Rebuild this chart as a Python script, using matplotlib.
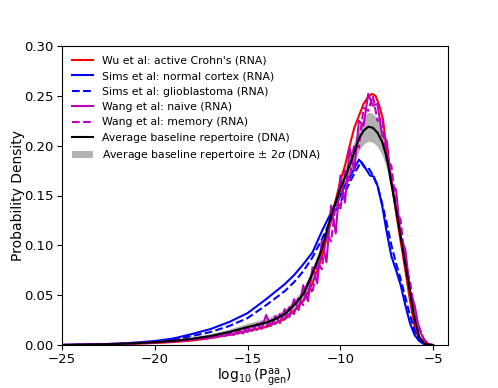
import numpy as np
import matplotlib
matplotlib.use("Agg")
import matplotlib.pyplot as plt

# ---- data ----
x_black = [-25, -24, -23, -22, -21, -20, -19, -18, -17, -16, -15, -14, -13.5, -13, -12.5, -12,
           -11.5, -11, -10.5, -10, -9.5, -9, -8.75, -8.5, -8.25, -8, -7.75, -7.5, -7, -6.5, -6,
           -5.75, -5.5, -5.25, -5]
y_black = [0.0, 0.0003, 0.0006, 0.0011, 0.0018, 0.0028, 0.0042, 0.0062, 0.0090, 0.0130, 0.0180,
           0.0225, 0.0260, 0.0310, 0.0400, 0.0510, 0.0720, 0.0960, 0.1300, 0.1570, 0.1800, 0.2070,
           0.2150, 0.2190, 0.2180, 0.2130, 0.2040, 0.1880, 0.1360, 0.0810, 0.0260, 0.0080, 0.0020,
           0.0003, 0.0]
sigma2 = [0.0, 0.0002, 0.0003, 0.0005, 0.0008, 0.0012, 0.0016, 0.0020, 0.0025, 0.0030, 0.0038,
          0.0042, 0.0045, 0.0048, 0.0050, 0.0055, 0.0060, 0.0065, 0.0070, 0.0080, 0.0100, 0.0120,
          0.0135, 0.0145, 0.0145, 0.0140, 0.0130, 0.0110, 0.0080, 0.0060, 0.0040, 0.0020, 0.0008,
          0.0002, 0.0]

x_red = [-25, -24, -23, -22, -21, -20, -19, -18, -17, -16, -15, -14, -13, -12.5, -12, -11.5,
         -11, -10.5, -10, -9.75, -9.5, -9.25, -9, -8.75, -8.5, -8.3, -8.1, -7.9, -7.7, -7.5,
         -7.25, -7, -6.5, -6.25, -6, -5.75, -5.5, -5.25]
y_red = [0.0, 0.0002, 0.0004, 0.0008, 0.0013, 0.0020, 0.0030, 0.0045, 0.0070, 0.0100, 0.0140,
         0.0180, 0.0260, 0.0340, 0.0440, 0.0620, 0.0880, 0.1250, 0.1650, 0.1800, 0.2000, 0.2180,
         0.2300, 0.2420, 0.2490, 0.2520, 0.2500, 0.2400, 0.2260, 0.1950, 0.1650, 0.1330, 0.0750,
         0.0450, 0.0180, 0.0050, 0.0010, 0.0]

x_blue = [-25, -24, -23, -22, -21, -20, -19, -18, -17, -16, -15, -14, -13, -12.5, -12, -11.5,
          -11, -10.5, -10, -9.75, -9.5, -9.25, -9.0, -8.8, -8.6, -8.4, -8.2, -8.0, -7.75, -7.5,
          -7.25, -7, -6.75, -6.5, -6.25, -6, -5.75, -5.5, -5.25]
y_blue = [0.0, 0.0004, 0.0008, 0.0014, 0.0025, 0.0040, 0.0065, 0.0110, 0.0160, 0.0230, 0.0320,
          0.0460, 0.0610, 0.0700, 0.0810, 0.0930, 0.1140, 0.1330, 0.1500, 0.1600, 0.1680, 0.1770,
          0.1860, 0.1820, 0.1760, 0.1700, 0.1690, 0.1600, 0.1400, 0.1130, 0.0890, 0.0750, 0.0600,
          0.0400, 0.0220, 0.0100, 0.0040, 0.0010, 0.0]

x_bluedash = [-25, -24, -23, -22, -21, -20, -19, -18, -17, -16, -15, -14, -13, -12.5, -12, -11.5,
              -11, -10.5, -10, -9.5, -9.25, -9, -8.9, -8.7, -8.5, -8.3, -8.0, -7.75, -7.5,
              -7.25, -7, -6.75, -6.5, -6.25, -6, -5.75, -5.5, -5.25]
y_bluedash = [0.0, 0.0003, 0.0006, 0.0011, 0.0020, 0.0032, 0.0055, 0.0090, 0.0130, 0.0190, 0.0270,
              0.0400, 0.0540, 0.0630, 0.0740, 0.0880, 0.1060, 0.1260, 0.1430, 0.1630, 0.1720,
              0.1800, 0.1840, 0.1780, 0.1780, 0.1720, 0.1600, 0.1420, 0.1220, 0.1000, 0.0820,
              0.0660, 0.0480, 0.0300, 0.0140, 0.0050, 0.0010, 0.0]

x_mag = [-25.00, -24.75, -24.50, -24.25, -24.00, -23.75, -23.50, -23.25, -23.00, -22.75, -22.50,
         -22.25, -22.00, -21.75, -21.50, -21.25, -21.00, -20.75, -20.50, -20.25, -20.00, -19.75,
         -19.50, -19.25, -19.00, -18.75, -18.50, -18.25, -18.00, -17.75, -17.50, -17.25, -17.00,
         -16.75, -16.50, -16.25, -16.00, -15.75, -15.50, -15.25, -15.00, -14.75, -14.50, -14.25,
         -14.00, -13.75, -13.50, -13.25, -13.00, -12.75, -12.50, -12.25, -12.00, -11.75, -11.50,
         -11.25, -11.00, -10.75, -10.50, -10.25, -10.00, -9.75, -9.50, -9.25, -9.00, -8.75, -8.50,
         -8.25, -8.00, -7.75, -7.50, -7.25, -7.00, -6.75, -6.50, -6.25, -6.00, -5.75, -5.50,
         -5.25, -5.00]
y_mag_naive = [0.0000, 0.0001, 0.0002, 0.0001, 0.0003, 0.0004, 0.0003, 0.0006, 0.0005, 0.0008,
               0.0007, 0.0010, 0.0012, 0.0011, 0.0016, 0.0014, 0.0019, 0.0021, 0.0018, 0.0027,
               0.0024, 0.0031, 0.0036, 0.0030, 0.0042, 0.0048, 0.0040, 0.0058, 0.0052, 0.0065,
               0.0074, 0.0060, 0.0085, 0.0078, 0.0102, 0.0090, 0.0118, 0.0100, 0.0150, 0.0115,
               0.0175, 0.0140, 0.0210, 0.0160, 0.0300, 0.0190, 0.0290, 0.0220, 0.0360, 0.0280,
               0.0460, 0.0350, 0.0600, 0.0440, 0.0780, 0.0620, 0.1050, 0.0830, 0.1400, 0.1120,
               0.1700, 0.1430, 0.1980, 0.1750, 0.2250, 0.2200, 0.2520, 0.2400, 0.2420, 0.2100,
               0.2050, 0.1620, 0.1560, 0.1080, 0.0960, 0.0550, 0.0400, 0.0150, 0.0060, 0.0010,
               0.0000]
y_mag_memory = [0.0000, 0.0002, 0.0001, 0.0003, 0.0002, 0.0005, 0.0004, 0.0005, 0.0007, 0.0006,
                0.0009, 0.0012, 0.0010, 0.0014, 0.0013, 0.0018, 0.0016, 0.0023, 0.0025, 0.0021,
                0.0030, 0.0028, 0.0034, 0.0040, 0.0036, 0.0045, 0.0054, 0.0047, 0.0062, 0.0058,
                0.0070, 0.0082, 0.0075, 0.0095, 0.0088, 0.0108, 0.0100, 0.0135, 0.0112, 0.0160,
                0.0130, 0.0190, 0.0150, 0.0225, 0.0180, 0.0265, 0.0210, 0.0310, 0.0255, 0.0380,
                0.0310, 0.0480, 0.0400, 0.0630, 0.0520, 0.0840, 0.0760, 0.1120, 0.1040, 0.1420,
                0.1350, 0.1750, 0.1650, 0.2020, 0.1980, 0.2380, 0.2350, 0.2500, 0.2250, 0.2280,
                0.1850, 0.1800, 0.1370, 0.1250, 0.0800, 0.0650, 0.0310, 0.0180, 0.0050, 0.0010,
                0.0000]

labels = ["Wu et al: active Crohn's (RNA)",
          "Sims et al: normal cortex (RNA)",
          "Sims et al: glioblastoma (RNA)",
          "Wang et al: naive (RNA)",
          "Wang et al: memory (RNA)",
          "Average baseline repertoire (DNA)",
          r"Average baseline repertoire $\pm$ 2$\sigma$ (DNA)"]

x_ticks = [-25, -20, -15, -10, -5]
y_ticks = [0.00, 0.05, 0.10, 0.15, 0.20, 0.25, 0.30]

# ---- plot ----
fig = plt.figure(figsize=(4.98, 3.88), dpi=100)
ax = fig.add_axes([62 / 498, 43 / 388, 386 / 498, 299 / 388])

yb = np.array(y_black)
sg = np.array(sigma2)
h_red, = ax.plot(x_red, y_red, color='r', lw=1.5, zorder=3)
h_b1, = ax.plot(x_blue, y_blue, color='b', lw=1.5, zorder=3)
h_b2, = ax.plot(x_bluedash, y_bluedash, color='b', lw=1.5, ls='--', zorder=3)
h_m1, = ax.plot(x_mag, y_mag_naive, color='m', lw=1.5, zorder=3)
h_m2, = ax.plot(x_mag, y_mag_memory, color='m', lw=1.5, ls='--', zorder=3)
h_fill = ax.fill_between(x_black, yb - sg, yb + sg, color='gray', alpha=0.6, lw=0, zorder=2)
h_k, = ax.plot(x_black, y_black, color='k', lw=1.5, zorder=4)

ax.legend([h_red, h_b1, h_b2, h_m1, h_m2, h_k, h_fill], labels, loc='upper left',
          frameon=False, fontsize=7.8)

ax.set_xlim(-25, -4.2)
ax.set_ylim(0, 0.30)
ax.set_xticks(x_ticks)
ax.set_yticks(y_ticks)
ax.set_yticklabels([f"{v:.2f}" for v in y_ticks])
ax.tick_params(labelsize=9.5, pad=2.5)
ax.set_xlabel(r"$\log_{10}(\mathrm{P}_{\mathrm{gen}}^{\mathrm{aa}})$", fontsize=10)
ax.set_ylabel("Probability Density", fontsize=10)
ax.yaxis.set_label_coords(-0.095, 0.5)
ax.xaxis.set_label_coords(0.5, -0.07)

fig.savefig("out.png", dpi=100)
